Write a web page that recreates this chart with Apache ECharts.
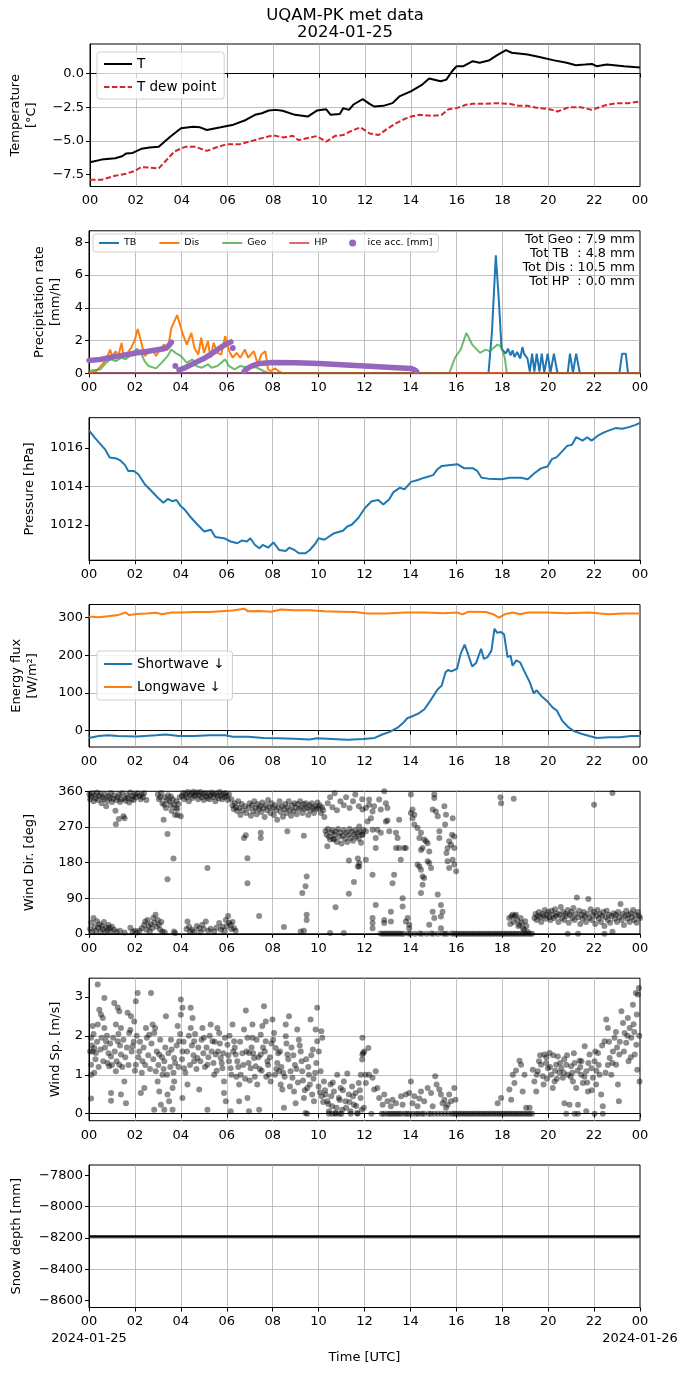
<!DOCTYPE html>
<html>
<head>
<meta charset="utf-8">
<script src="https://cdn.jsdelivr.net/npm/echarts@6/dist/echarts.min.js"></script>
<style>
html, body { margin: 0; padding: 0; background: #fff; }
#chart { width: 690px; height: 1377px; }
</style>
</head>
<body>
<div id="chart"></div>
<script>
// ---- data (x = hour of 2024-01-25 UTC) ----
const hourTicks = [0, 2, 4, 6, 8, 10, 12, 14, 16, 18, 20, 22, 24];

const tempTicks = [-7.5, -5, -2.5, 0];
const tempT = [[0,-6.6],[0.5,-6.4],[1.1,-6.3],[1.4,-6.15],[1.57,-5.95],[1.86,-5.9],[2.24,-5.6],[2.6,-5.5],[3.0,-5.45],[3.5,-4.7],[3.97,-4.07],[4.5,-3.95],[4.8,-4.0],[5.1,-4.2],[5.7,-4.0],[6.26,-3.8],[6.8,-3.45],[7.2,-3.07],[7.5,-2.95],[7.8,-2.75],[8.1,-2.7],[8.4,-2.77],[8.95,-3.07],[9.5,-3.2],[9.9,-2.75],[10.3,-2.65],[10.5,-3.07],[10.9,-3.0],[11.05,-2.57],[11.3,-2.7],[11.5,-2.3],[11.9,-1.9],[12.2,-2.25],[12.4,-2.45],[12.8,-2.4],[13.2,-2.2],[13.5,-1.7],[14.0,-1.32],[14.5,-0.82],[14.8,-0.37],[15.3,-0.57],[15.55,-0.45],[15.8,0.17],[16.0,0.55],[16.3,0.55],[16.7,0.92],[17.0,0.8],[17.4,0.97],[17.75,1.35],[18.15,1.75],[18.4,1.55],[19.1,1.42],[19.66,1.22],[20.2,1.0],[20.8,0.8],[21.2,0.62],[21.6,0.67],[21.9,0.72],[22.1,0.55],[22.55,0.67],[23.3,0.55],[24,0.45]];
const tempDew = [[0,-7.9],[0.5,-7.9],[1.1,-7.6],[1.57,-7.45],[1.95,-7.25],[2.24,-6.95],[2.6,-7.0],[3.0,-7.05],[3.3,-6.5],[3.68,-5.8],[4.15,-5.45],[4.6,-5.45],[5.1,-5.75],[5.5,-5.5],[5.97,-5.25],[6.55,-5.25],[6.93,-5.07],[7.5,-4.8],[7.98,-4.6],[8.45,-4.75],[8.85,-4.63],[9.1,-4.95],[9.6,-4.75],[9.9,-4.65],[10.3,-5.07],[10.7,-4.63],[11.05,-4.57],[11.4,-4.27],[11.8,-4.0],[12.2,-4.45],[12.6,-4.57],[13.0,-4.07],[13.35,-3.7],[13.7,-3.4],[14.0,-3.2],[14.4,-3.07],[14.9,-3.15],[15.35,-3.07],[15.65,-2.65],[16.0,-2.57],[16.4,-2.32],[16.7,-2.25],[17.2,-2.25],[17.75,-2.2],[18.3,-2.25],[18.7,-2.4],[19.1,-2.4],[19.56,-2.57],[20.05,-2.65],[20.4,-2.82],[20.9,-2.5],[21.4,-2.5],[21.9,-2.7],[22.4,-2.4],[22.95,-2.2],[23.5,-2.2],[24,-2.07]];

const rateTicks = [0, 2, 4, 6, 8];
const rateTB = [[0,0],[17.4,0],[17.55,2.5],[17.72,7.2],[17.85,4.5],[17.97,1.5],[18.05,1.6],[18.15,1.2],[18.25,1.5],[18.36,1.1],[18.45,1.4],[18.53,1.0],[18.65,1.3],[18.78,0.9],[18.88,1.6],[18.95,1.2],[19.1,0.9],[19.2,0.1],[19.3,1.2],[19.4,0.1],[19.5,1.2],[19.62,0.1],[19.72,1.2],[19.83,0.05],[19.98,1.2],[20.1,0.05],[20.25,1.2],[20.4,0.05],[20.5,0],[20.85,0],[20.95,1.2],[21.08,0.05],[21.22,1.2],[21.38,0],[23.1,0],[23.22,1.2],[23.38,1.2],[23.48,0],[24,0]];
const rateDis = [[0,0],[0.33,0.15],[0.58,0.55],[0.75,0.85],[0.92,1.45],[1.0,1.05],[1.17,1.35],[1.25,0.95],[1.42,1.85],[1.5,1.05],[1.67,1.25],[1.84,1.55],[2.0,2.05],[2.12,2.7],[2.25,2.05],[2.42,1.05],[2.59,1.25],[2.75,1.5],[2.92,1.05],[3.09,1.45],[3.26,1.75],[3.42,1.4],[3.59,2.77],[3.72,3.18],[3.84,3.55],[3.96,3.0],[4.09,2.37],[4.26,1.75],[4.46,2.47],[4.59,1.55],[4.76,1.15],[4.89,2.17],[5.01,1.25],[5.18,1.96],[5.29,0.95],[5.43,1.86],[5.59,1.25],[5.76,1.15],[5.93,2.27],[6.09,1.4],[6.26,0.95],[6.43,1.25],[6.59,0.95],[6.79,1.45],[6.93,0.95],[7.18,1.35],[7.35,0.55],[7.51,1.15],[7.68,1.35],[7.8,0.24],[7.93,0.14],[8.1,0.3],[8.26,0.14],[8.43,0],[24,0]];
const rateGeo = [[0,0.15],[0.5,0.24],[0.75,0.65],[0.92,0.85],[1.17,0.75],[1.42,0.95],[1.59,0.85],[1.84,1.15],[2.09,1.5],[2.25,1.25],[2.42,0.75],[2.59,0.45],[2.92,0.3],[3.17,0.65],[3.42,1.05],[3.59,1.45],[3.76,1.25],[4.01,1.05],[4.26,0.65],[4.51,0.85],[4.67,0.45],[4.92,0.34],[5.18,0.55],[5.34,0.34],[5.59,0.45],[5.93,0.85],[6.09,0.45],[6.34,0.24],[6.59,0.45],[6.93,0.34],[7.26,0.38],[7.6,0.14],[7.85,0],[15.69,0],[15.94,0.95],[16.19,1.45],[16.44,2.47],[16.69,1.75],[17.03,1.25],[17.28,1.45],[17.45,1.35],[17.78,1.75],[17.95,1.65],[18.11,0.95],[18.2,0],[24,0]];
const rateHP = [[0,0],[24,0]];
const iceSeg1 = [[0,0.78],[0.5,0.85],[1.0,0.98],[1.25,1.05],[1.7,1.15],[2.09,1.25],[2.5,1.33],[2.92,1.42],[3.26,1.5],[3.45,1.65],[3.59,1.9]];
const iceSeg2 = [[3.92,0.2],[4.2,0.35],[4.59,0.62],[5.0,0.9],[5.26,1.12],[5.6,1.45],[5.93,1.75],[6.18,1.92]];
const iceSeg3 = [[6.76,0.12],[6.9,0.3],[7.1,0.45],[7.43,0.6],[8.0,0.66],[9.0,0.64],[10.02,0.6],[11.0,0.52],[12.02,0.45],[13.0,0.37],[14.02,0.3],[14.2,0.2],[14.27,0.12]];
const iceDots = [[3.76,0.45],[6.26,1.55]];
const rateTotals = ['Tot Geo : 7.9 mm', 'Tot TB  : 4.8 mm', 'Tot Dis : 10.5 mm', 'Tot HP  : 0.0 mm'];

const presTicks = [1012, 1014, 1016];
const pressure = [[0,1016.91],[0.23,1016.56],[0.42,1016.3],[0.71,1015.91],[0.9,1015.51],[1.19,1015.46],[1.38,1015.34],[1.57,1015.11],[1.71,1014.81],[1.96,1014.8],[2.15,1014.64],[2.43,1014.12],[2.72,1013.77],[3.0,1013.42],[3.24,1013.16],[3.43,1013.36],[3.62,1013.24],[3.81,1013.3],[3.97,1013.02],[4.16,1012.81],[4.39,1012.46],[4.73,1012.02],[5.02,1011.67],[5.31,1011.76],[5.5,1011.38],[5.88,1011.32],[6.17,1011.15],[6.46,1011.06],[6.65,1011.2],[6.88,1011.15],[7.03,1011.32],[7.23,1010.97],[7.42,1010.8],[7.57,1010.97],[7.8,1010.83],[8.03,1011.1],[8.28,1010.71],[8.57,1010.66],[8.72,1010.83],[8.95,1010.71],[9.14,1010.54],[9.43,1010.54],[9.62,1010.71],[9.87,1011.06],[10.0,1011.32],[10.25,1011.24],[10.68,1011.58],[11.06,1011.71],[11.25,1011.93],[11.44,1012.02],[11.73,1012.37],[12.02,1012.89],[12.31,1013.24],[12.6,1013.3],[12.82,1013.07],[13.07,1013.33],[13.26,1013.71],[13.55,1013.94],[13.74,1013.85],[14.03,1014.24],[14.32,1014.34],[14.61,1014.46],[14.99,1014.59],[15.18,1014.9],[15.37,1015.07],[15.66,1015.11],[16.04,1015.16],[16.33,1014.95],[16.71,1014.95],[16.91,1014.81],[17.1,1014.46],[17.39,1014.41],[17.96,1014.38],[18.34,1014.46],[18.82,1014.46],[19.11,1014.38],[19.4,1014.69],[19.69,1014.94],[19.97,1015.04],[20.16,1015.42],[20.36,1015.51],[20.64,1015.86],[20.84,1016.12],[21.03,1016.16],[21.22,1016.56],[21.5,1016.38],[21.7,1016.56],[21.89,1016.38],[22.18,1016.65],[22.46,1016.82],[22.66,1016.91],[22.94,1017.03],[23.23,1017.0],[23.52,1017.08],[23.81,1017.2],[24,1017.3]];

const fluxTicks = [0, 100, 200, 300];
const swDown = [[0,-19],[0.42,-14],[0.83,-12],[1.25,-14],[2.09,-15],[2.92,-12],[3.34,-10],[3.92,-14],[4.59,-14],[5.26,-12],[5.93,-12],[6.26,-16],[6.93,-16],[7.6,-19],[8.26,-20],[8.93,-21],[9.6,-23],[9.93,-20],[10.6,-22],[11.27,-24],[11.94,-22],[12.44,-19],[12.77,-10],[13.1,-3],[13.44,8],[13.69,21],[13.86,33],[14.11,39],[14.36,46],[14.44,42],[14.61,57],[14.86,79],[15.19,110],[15.36,119],[15.53,155],[15.64,161],[15.78,157],[16.03,164],[16.19,204],[16.36,228],[16.48,208],[16.69,170],[16.86,179],[16.94,177],[17.08,217],[17.2,190],[17.36,195],[17.53,212],[17.66,270],[17.78,259],[17.95,261],[18.08,255],[18.23,195],[18.36,199],[18.45,172],[18.61,186],[18.78,181],[18.95,159],[19.2,128],[19.37,99],[19.5,107],[19.7,92],[19.95,79],[20.2,61],[20.37,54],[20.62,26],[20.87,10],[21.12,-1],[21.45,-8],[21.79,-14],[22.12,-19],[22.62,-17],[23.12,-17],[23.62,-14],[24,-14]];
const lwDown = [[0,302],[0.42,300],[0.83,303],[1.25,306],[1.59,313],[1.75,306],[2.09,309],[2.5,310],[2.92,312],[3.17,308],[3.59,313],[4.0,313],[4.59,314],[5.26,314],[5.76,316],[6.26,318],[6.76,323],[6.93,316],[7.43,317],[7.93,315],[8.35,321],[8.93,319],[9.6,319],[10.27,316],[10.93,315],[11.6,314],[12.1,310],[12.94,310],[13.77,313],[14.61,313],[15.44,311],[16.03,313],[16.28,308],[16.53,315],[17.28,314],[17.61,308],[17.86,299],[18.11,308],[18.45,313],[18.78,308],[19.12,313],[19.95,313],[20.78,311],[21.79,313],[22.62,308],[23.29,310],[24,310]];

const dirTicks = [0, 90, 180, 270, 360];
const calmHours = [16.0,16.1,16.2,16.3,16.4,16.5,16.6,16.7,16.8,16.9,17.0,17.1,17.2,17.3,17.4,17.5,17.6,17.7,17.8,17.9,18.0,18.1,18.2,18.3,18.4,18.5,18.6,18.7,18.8,18.9,19.0,19.1,19.2,19.3];
const windDirA = [[0.02,352],[0.05,340],[0.1,347],[0.15,355],[0.2,335],[0.25,350],[0.3,342],[0.35,357],[0.4,338],[0.45,348],[0.5,353],[0.55,330],[0.6,345],[0.65,340],[0.7,352],[0.75,322],[0.8,336],[0.85,348],[0.9,343],[0.95,356],[1.0,333],[1.05,341],[1.1,350],[1.15,311],[1.17,277],[1.2,338],[1.25,345],[1.3,290],[1.32,352],[1.35,333],[1.4,340],[1.45,355],[1.5,297],[1.55,292],[1.55,342],[1.6,336],[1.65,350],[1.7,344],[1.75,332],[1.8,357],[1.85,340],[1.9,348],[1.95,338],[2.0,352],[2.05,345],[2.1,355],[2.2,348],[2.25,340],[2.3,352],[2.35,345],[2.4,355],[2.5,338],
  [0.05,12],[0.1,28],[0.15,5],[0.2,40],[0.25,18],[0.3,8],[0.35,32],[0.4,15],[0.45,24],[0.5,6],[0.55,20],[0.6,12],[0.65,30],[0.7,4],[0.75,16],[0.8,9],[0.85,22],[0.9,14],[0.95,6],[1.0,18],[1.1,10],[1.2,5],[1.35,8],[1.55,3],[1.8,15],[1.9,5],[2.0,8],[2.1,3],[2.2,8],[2.3,14],[2.4,22],[2.45,31],[2.5,10],[2.55,35],[2.6,20],[2.65,6],[2.7,24],[2.75,14],[2.8,40],[2.85,28],[2.9,48],[2.95,18],[3.0,35],[3.05,23],[3.1,10],[3.15,30],[3.2,6],[3.3,4],[3.7,6],[3.75,2],
  [3.0,352],[3.05,340],[3.1,345],[3.15,356],[3.2,330],[3.25,288],[3.28,326],[3.3,345],[3.35,318],[3.4,338],[3.42,252],[3.42,138],[3.45,350],[3.5,335],[3.55,325],[3.57,347],[3.6,310],[3.65,340],[3.68,190],[3.7,326],[3.75,300],[3.78,318],[3.8,335],[3.85,315],[3.86,300],[3.9,328],[3.95,345],[4.0,297],
  [4.05,348],[4.1,356],[4.15,340],[4.2,352],[4.25,345],[4.3,358],[4.35,335],[4.4,350],[4.45,355],[4.5,343],[4.55,359],[4.6,348],[4.65,352],[4.7,357],[4.75,340],[4.8,350],[4.85,358],[4.9,345],[4.95,353],[5.0,338],[5.05,356],[5.1,348],[5.15,343],[5.16,166],[5.2,355],[5.25,340],[5.3,350],[5.35,357],[5.4,345],[5.45,352],[5.5,335],[5.55,355],[5.6,348],[5.65,342],[5.7,358],[5.75,350],[5.8,340],[5.85,353],[5.9,345],[5.95,356],[6.0,348],[6.05,338],[6.1,352],
  [4.25,12],[4.29,31],[4.36,18],[4.4,5],[4.5,10],[4.58,6],[4.7,20],[4.8,14],[4.85,4],[4.94,23],[5.0,12],[5.09,31],[5.2,8],[5.3,13],[5.45,6],[5.55,15],[5.67,27],[5.75,10],[5.81,18],[5.9,8],[5.96,35],[6.0,20],[6.06,45],[6.1,28],[6.17,23],[6.2,12],[6.25,30],[6.32,14],[6.39,8]];
const windDirB = [[6.2,340],[6.25,325],[6.3,315],[6.35,330],[6.4,320],[6.45,310],[6.5,335],[6.55,318],[6.6,300],[6.65,328],[6.7,312],[6.75,242],[6.8,322],[6.83,249],[6.85,305],[6.9,191],[6.9,128],[6.95,318],[7.0,330],[7.05,298],[7.1,325],[7.15,310],[7.2,335],[7.25,318],[7.3,302],[7.35,328],[7.4,315],[7.41,45],[7.45,322],[7.48,255],[7.48,242],[7.5,308],[7.55,332],[7.6,318],[7.65,295],[7.7,325],[7.75,312],[7.8,338],[7.85,320],[7.9,305],[7.95,330],[8.0,318],[8.05,300],[8.1,325],[8.15,312],[8.2,288],[8.25,320],[8.3,335],[8.35,308],[8.4,322],[8.45,296],[8.49,17],[8.5,315],[8.55,328],[8.6,305],[8.64,259],[8.65,320],[8.7,335],[8.75,312],[8.8,298],[8.85,325],[8.9,310],[8.95,330],[9.0,318],[9.05,302],[9.1,328],[9.15,315],[9.2,335],[9.22,6],[9.25,320],[9.29,103],[9.3,305],[9.35,328],[9.36,248],[9.36,8],[9.4,315],[9.43,120],[9.45,330],[9.48,145],[9.48,48],[9.48,35],[9.5,318],[9.55,300],[9.6,325],[9.65,312],[9.7,330],[9.75,318],[9.8,305],[9.85,322],[9.9,315],[9.95,332],[10.0,318],[10.05,325],[10.1,305],[10.15,320],[10.2,312],[10.25,295],
  [10.3,260],[10.35,250],[10.38,221],[10.4,265],[10.45,245],[10.5,238],[10.5,2],[10.55,255],[10.6,262],[10.65,240],[10.67,238],[10.7,250],[10.74,67],[10.75,258],[10.8,232],[10.85,265],[10.9,245],[10.95,255],[11.0,228],[11.05,248],[11.1,262],[11.1,2],[11.15,240],[11.2,255],[11.25,232],[11.3,250],[11.32,185],[11.32,101],[11.35,265],[11.4,242],[11.45,258],[11.5,235],[11.54,131],[11.55,250],[11.6,262],[11.65,245],[11.7,255],[11.71,190],[11.71,170],[11.75,240],[11.8,258],[11.85,230],[11.9,250],[11.95,262],
  [10.4,330],[10.5,345],[10.6,320],[10.7,355],[10.8,312],[10.95,335],[11.1,325],[11.2,345],[11.35,318],[11.5,335],[11.6,352],[11.75,322],[11.9,340]];
const windDirC = [[11.91,314],[12.06,318],[12.2,326],[12.35,309],[12.42,322],[12.2,339],[12.64,339],[12.71,314],[12.93,330],[13.0,318],[12.86,360],[11.77,271],[11.91,250],[12.06,259],[12.13,284],[12.28,292],[12.35,263],[12.56,263],[12.71,255],[12.93,284],[13.0,286],[13.08,259],[12.49,242],[12.49,217],[12.35,149],[12.06,187],[11.77,179],[11.77,170],[12.49,73],[12.35,40],[12.35,27],[12.86,35],[12.86,27],[13.15,31],[13.15,56],[13.22,128],[13.29,149],[13.37,217],[13.51,217],[13.58,187],[13.73,217],[13.8,217],[13.37,255],[13.44,242],[13.51,288],[13.66,69],[13.66,90],[13.8,31],[13.88,40],[13.95,23],[14.02,352],[14.09,314],[14.02,305],[14.17,301],[14.09,292],[14.17,276],[14.31,267],[14.39,242],[14.46,255],[14.6,238],[14.46,212],[14.53,217],[14.31,175],[14.39,170],[14.46,162],[14.53,145],[14.6,141],[14.53,124],[14.46,103],[14.68,234],[14.75,229],[14.82,208],[14.75,183],[14.82,179],[14.9,166],[14.97,314],[15.04,352],[15.04,343],[15.11,309],[15.19,297],[15.26,259],[15.26,242],[15.19,99],[14.97,56],[15.04,40],[15.33,73],[15.33,44],[15.4,56],[15.48,322],[15.55,301],[15.51,276],[15.57,204],[15.62,217],[15.62,183],[15.69,234],[15.77,225],[15.81,250],[15.84,292],[15.91,246],[15.91,217],[15.91,175],[15.99,158],[15.84,187],[15.69,166],[12.35,14],[13.95,14],[14.82,23],[15.33,14],
  [12.7,1],[12.8,0],[12.9,1],[13.0,0],[13.1,1],[13.2,0],[13.3,1],[13.4,0],[13.5,1],[13.6,0],[13.7,0],[13.9,1],[14.0,0],[14.2,0],[14.4,1],[14.5,0],[14.7,0],[14.9,1],[15.0,0],[15.2,0],[15.4,1],[15.5,0],[15.6,0],[15.8,1],[15.9,0]];
const windDirD = [[17.92,345],[17.95,330],[18.5,341],
  [18.3,40],[18.35,25],[18.4,44],[18.45,48],[18.5,30],[18.55,45],[18.6,48],[18.65,35],[18.7,20],[18.75,23],[18.8,40],[18.85,28],[18.9,14],[18.95,10],[19.0,32],[19.05,20],[19.1,5],
  [19.4,40],[19.45,50],[19.5,35],[19.55,45],[19.6,55],[19.65,42],[19.7,30],[19.75,50],[19.8,45],[19.85,60],[19.9,38],[19.95,48],[20.0,55],[20.05,42],[20.1,35],[20.15,58],[20.2,48],[20.25,40],[20.3,62],[20.35,45],[20.4,52],[20.45,30],[20.5,48],[20.55,68],[20.6,40],[20.65,55],[20.7,35],[20.75,50],[20.8,45],[20.85,0],[20.85,60],[20.9,28],[20.95,48],[21.0,55],[21.05,40],[21.1,65],[21.15,35],[21.2,50],[21.25,92],[21.3,0],[21.3,42],[21.35,58],[21.4,25],[21.45,48],[21.5,38],[21.55,55],[21.6,44],[21.65,30],[21.7,50],[21.75,88],[21.8,40],[21.85,62],[21.9,35],[21.95,48],[22.0,326],[22.0,55],[22.05,25],[22.1,45],[22.15,60],[22.2,38],[22.25,50],[22.3,30],[22.35,45],[22.4,55],[22.45,0],[22.45,20],[22.5,42],[22.55,58],[22.6,35],[22.65,48],[22.7,28],[22.75,45],[22.8,356],[22.8,5],[22.85,52],[22.9,38],[22.95,48],[23.0,30],[23.05,55],[23.1,42],[23.15,75],[23.2,35],[23.25,50],[23.3,22],[23.35,45],[23.4,58],[23.45,38],[23.5,48],[23.55,30],[23.6,52],[23.65,42],[23.7,60],[23.75,35],[23.8,48],[23.85,28],[23.9,55],[23.95,45],[24.0,40]];

const speedTicks = [0, 1, 2, 3];
const windSpA = [[0.38,3.32],[0.67,2.97],[0.45,2.67],[0.52,2.55],[0.38,2.29],[0.16,2.25],[0.09,1.95],[0.16,1.6],[0.23,1.69],[0.3,1.56],[0.09,1.26],[0.23,1.05],[0.09,1.0],[0.09,0.39],[0.6,2.46],[0.67,2.2],[0.74,1.86],[0.81,1.3],[0.88,1.22],[0.96,1.47],[0.96,0.53],[0.96,0.33],[1.1,2.84],[1.25,2.73],[1.32,2.63],[1.17,2.29],[1.39,2.2],[1.25,1.86],[1.39,1.52],[1.17,1.09],[1.32,1.26],[1.39,0.49],[1.54,0.83],[1.61,0.27],[1.68,2.59],[1.83,2.5],[1.75,2.07],[1.9,1.73],[1.97,2.37],[2.04,2.89],[2.12,3.1],[2.04,1.26],[2.19,1.6],[2.26,0.53],[2.33,1.35],[2.41,0.66],[2.48,2.2],[2.62,2.03],[2.7,3.1],[2.77,2.29],[2.84,2.07],[2.84,0.1],[2.91,1.09],[2.99,0.83],[3.06,1.52],[3.06,0.57],[3.13,0.23],[3.2,1.0],[3.28,0.1],[3.28,1.35],[3.35,2.5],[3.42,0.49],[3.49,0.32],[3.57,1.9],[3.64,0.1],[3.71,0.83],[3.64,0.66],[3.71,1.43],[3.86,2.25],[4.0,2.93],[4.07,2.72],[4.0,2.54],[3.93,1.86],[4.07,1.6],[4.14,1.17],[4.07,0.4],[4.29,0.75],[4.43,2.72],[4.51,2.46],[4.43,2.2],[4.58,1.86],[4.58,1.35],[4.72,1.43],[4.8,0.62],[4.94,2.2],[5.01,1.95],[5.16,1.26],[5.16,0.1],[5.3,2.29],[5.38,1.86],[5.45,1.0],[5.52,1.52],[5.59,2.2],[5.67,2.07],[5.74,1.43],[5.81,1.17],[5.88,0.53],[5.88,0.83],[5.96,0.32],
  [0.05,1.6],[0.12,1.75],[0.2,2.05],[0.28,1.4],[0.35,1.85],[0.42,1.2],[0.5,1.65],[0.55,1.95],[0.62,1.35],[0.7,1.7],[0.78,2.0],[0.85,1.55],[0.92,1.8],[1.0,1.25],[1.05,1.95],[1.12,1.6],[1.2,1.35],[1.28,2.05],[1.35,1.75],[1.45,1.2],[1.5,1.9],[1.58,1.45],[1.65,1.7],[1.72,1.25],[1.8,2.15],[1.86,1.6],[1.95,1.85],[2.0,1.1],[2.08,2.0],[2.15,1.45],[2.22,1.85],[2.3,1.05],[2.38,1.7],[2.45,1.25],[2.52,1.95],[2.58,1.5],[2.66,1.15],[2.72,1.8],[2.8,1.4],[2.88,2.2],[2.95,1.6],[3.02,1.25],[3.1,1.9],[3.18,1.45],[3.25,1.15],[3.32,1.7],[3.4,1.0],[3.46,1.55],[3.54,1.2],[3.6,1.65],[3.68,1.05],[3.75,1.3],[3.82,1.75],[3.9,1.2],[3.97,2.05],[4.05,1.4],[4.12,1.85],[4.2,1.05],[4.27,1.6],[4.35,2.0],[4.4,1.25],[4.48,1.75],[4.55,1.5],[4.62,2.05],[4.68,1.15],[4.76,1.7],[4.85,1.35],[4.9,1.9],[4.98,1.55],[5.05,1.2],[5.12,1.7],[5.2,1.45],[5.26,2.0],[5.34,1.6],[5.42,1.3],[5.48,1.85],[5.56,1.1],[5.62,1.6],[5.7,1.8],[5.78,1.3],[5.85,1.55],[5.92,1.95]];
const windSpB = [[6.03,1.77],[6.1,1.35],[6.17,1.17],[6.17,0.06],[6.25,2.29],[6.32,1.86],[6.39,1.52],[6.46,1.35],[6.54,0.75],[6.54,0.32],[6.61,1.0],[6.75,2.16],[6.83,2.65],[6.9,1.95],[6.97,1.56],[6.9,0.4],[6.97,0.06],[7.04,1.17],[7.12,2.29],[7.12,1.95],[7.19,1.43],[7.26,1.22],[7.33,0.75],[7.41,0.1],[7.48,1.52],[7.48,2.03],[7.55,2.25],[7.62,2.76],[7.7,2.37],[7.7,1.86],[7.77,1.35],[7.84,1.0],[7.91,0.83],[7.99,2.42],[8.06,2.07],[8.13,1.69],[8.2,1.3],[8.28,1.09],[8.35,0.75],[8.42,0.62],[8.49,0.15],[8.57,2.29],[8.57,1.99],[8.64,1.52],[8.71,2.5],[8.78,1.09],[8.86,0.92],[8.93,0.57],[9.0,0.27],[9.07,2.16],[9.14,1.9],[9.22,1.6],[9.29,1.09],[9.36,0.4],[9.43,0.02],[9.51,0.66],[9.58,1.0],[9.65,2.42],[9.72,0.49],[9.8,0.32],[9.87,2.16],[9.94,2.72],[9.94,1.86],[10.01,1.6],[10.09,1.09],[10.12,2.12],[10.16,1.95],
  [10.23,0.83],[10.3,0.49],[10.38,0.32],[10.45,0.06],[10.52,0.75],[10.59,0.19],[10.67,0.57],[10.74,0.02],[10.81,1.0],[10.88,0.4],[10.96,0.66],[11.03,0.1],[11.1,0.83],[11.17,0.32],[11.25,1.03],[11.32,0.49],[11.39,0.06],[11.46,0.7],[11.54,0.23],[11.61,0.53],[11.68,0.02],[11.75,0.79],[11.83,0.4],[11.9,1.39],[11.94,1.56],[11.97,0.15],[12.04,1.0],
  [6.07,1.5],[6.2,1.0],[6.35,1.7],[6.5,1.2],[6.68,1.55],[6.8,0.9],[6.95,1.3],[7.08,1.7],[7.22,0.95],[7.38,1.45],[7.52,1.1],[7.66,1.6],[7.8,1.25],[7.95,1.8],[8.1,1.0],[8.24,1.55],[8.38,1.2],[8.52,0.95],[8.68,1.4],[8.82,1.7],[8.97,1.25],[9.1,0.8],[9.26,1.35],[9.4,0.6],[9.55,1.2],[9.68,1.5],[9.78,0.9],[9.9,1.3],[10.06,0.55],[10.2,0.3],[10.28,0.6],[10.42,0.25],[10.55,0.45],[10.62,0.8],[10.78,0.15],[10.92,0.35],[11.06,0.6],[11.2,0.15],[11.35,0.3],[11.5,0.45],[11.64,0.2],[11.8,0.6],[11.88,0.1],
  [6.12,2.0],[6.28,1.6],[6.42,0.95],[6.58,1.85],[6.72,1.25],[6.86,1.6],[7.0,0.85],[7.15,1.55],[7.3,1.9],[7.44,1.15],[7.58,1.7],[7.72,0.95],[7.88,1.45],[8.02,1.9],[8.16,1.15],[8.32,1.6],[8.46,1.05],[8.6,1.8],[8.75,0.7],[8.9,1.5],[9.04,1.15],[9.18,1.75],[9.32,0.85],[9.46,1.4],[9.62,0.75],[9.75,1.65],[9.85,1.05],[10.0,0.7],[10.14,0.45],
  [9.5,0],[10.45,0],[10.6,0],[10.74,0],[10.9,0],[11.0,0],[11.4,0],[11.7,0]];
const windSpC = [[11.91,1.95],[11.99,1.6],[11.91,1.52],[12.17,1.69],[11.84,1.0],[12.06,0.79],[12.2,1.0],[12.35,0.92],[12.49,1.09],[12.42,0.62],[12.56,0.66],[12.64,0.4],[12.79,0.23],[12.86,0.49],[13.0,0.32],[13.15,0.19],[13.22,0.36],[13.37,0.27],[13.59,0.45],[13.66,0.23],[13.8,0.49],[13.95,0.53],[14.02,0.83],[14.09,0.27],[14.17,0.45],[14.31,0.19],[14.39,0.39],[14.46,0.57],[14.6,0.32],[14.75,0.66],[14.9,0.53],[14.97,0.19],[15.08,0.96],[15.14,0.75],[15.26,0.62],[15.33,0.49],[15.4,0.27],[15.48,0.36],[15.55,0.15],[15.62,0.23],[15.69,0.49],[15.77,0.32],[15.91,0.66],[15.96,0.36],
  [12.3,0],[12.75,0],[12.85,0],[13.0,0],[13.1,0],[13.2,0],[13.3,0],[13.4,0],[13.5,0],[13.6,0],[13.75,0],[13.85,0],[13.95,0],[14.1,0],[14.25,0],[14.35,0],[14.5,0],[14.6,0],[14.8,0],[14.9,0],[15.05,0],[15.2,0],[15.35,0],[15.5,0],[15.65,0],[15.8,0],[15.9,0]];
const windSpD = [[17.8,0.27],[17.95,0.4],[18.31,0.62],[18.39,0.36],[18.46,1.0],[18.53,0.79],[18.6,1.11],[18.75,1.36],[18.82,1.26],[18.89,0.57],[18.97,1.0],[19.04,0.15],[19.19,0.15],
  [19.33,1.13],[19.4,0.83],[19.48,0.57],[19.55,1.09],[19.69,1.26],[19.77,0.96],[19.84,1.52],[19.91,1.3],[19.99,1.17],[20.06,1.56],[20.13,1.0],[20.2,0.66],[20.28,0.83],[20.35,1.26],[20.42,1.47],[20.49,1.05],[20.57,1.17],[20.64,0.92],[20.71,0.27],[20.79,1.26],[20.86,1.0],[20.93,0.23],[21.0,1.22],[21.08,0.83],[21.15,1.3],[21.22,0.66],[21.3,0.23],[21.37,1.36],[21.44,1.0],[21.51,0.79],[21.59,1.73],[21.66,1.09],[21.73,0.57],[21.8,1.52],[21.88,1.17],[21.95,0.92],[22.02,1.35],[22.09,0.75],[22.17,1.56],[22.24,1.0],[22.31,0.49],[22.38,0.19],[22.46,1.86],[22.53,2.42],[22.6,2.2],[22.68,1.43],[22.75,1.0],[22.82,1.6],[22.89,1.95],[22.96,1.26],[23.04,0.75],[23.08,0.32],[23.1,1.52],[23.19,2.63],[23.26,2.33],[23.33,2.07],[23.4,1.82],[23.47,2.46],[23.55,2.2],[23.62,1.95],[23.69,2.8],[23.77,1.52],[23.84,1.77],[23.91,3.06],[23.95,3.23],[23.98,0.83],[23.88,1.13],[23.82,3.1],
  [19.6,1.35],[19.95,0.9],[20.3,1.1],[20.7,1.4],[21.05,1.05],[21.4,1.2],[21.7,0.8],[22.1,1.1],[22.6,1.25],[23.0,1.7],[23.5,1.35],[23.75,2.1],
  [19.5,1.0],[19.65,1.5],[19.8,0.75],[19.92,1.45],[20.08,1.2],[20.22,1.5],[20.38,0.9],[20.52,1.3],[20.68,1.05],[20.82,1.5],[20.98,0.95],[21.12,1.55],[21.28,1.1],[21.45,1.35],[21.58,0.95],[21.75,1.3],[21.9,0.6],[22.05,1.6],[22.2,1.25],[22.35,1.75],[22.5,1.05],[22.65,1.85],[22.8,1.3],[22.95,2.1],[23.12,1.85],[23.3,1.6],[23.45,2.0],[23.6,1.45],[23.72,2.3],[23.86,2.55],[23.97,2.0],
  [20.79,0],[21.15,0],[21.3,0],[21.66,0.06],[22.02,0],[22.38,0]];

const snowTicks = [-8600, -8400, -8200, -8000, -7800];
const snowDepth = [[0,-8192],[24,-8192]];

// ---- layout ----
const FONT = 'DejaVu Sans';
const GRID_GRAY = '#b0b0b0';
const TOPS = [44, 230.8, 417.7, 604.5, 791.3, 978.2, 1165];
const PH = 142.5;

const minus = s => String(s).replace('-', '\u2212');
const hh = v => (v % 24 === 0 ? '00' : String(v).padStart(2, '0'));

const yDefs = [
  { name: 'Temperature\n[°C]', min: -8.4, max: 2.2, ticks: tempTicks, fmt: v => minus(v.toFixed(1)), gap: 50 },
  { name: 'Precipitation rate\n[mm/h]', min: 0, max: 8.7, ticks: rateTicks, fmt: v => String(v), gap: 24 },
  { name: 'Pressure [hPa]', min: 1010.18, max: 1017.57, ticks: presTicks, fmt: v => String(v), gap: 51 },
  { name: 'Energy flux\n[W/m²]', min: -43, max: 334, ticks: fluxTicks, fmt: v => String(v), gap: 48 },
  { name: 'Wind Dir. [deg]', min: 0, max: 360, ticks: dirTicks, fmt: v => String(v), gap: 51 },
  { name: 'Wind Sp. [m/s]', min: -0.18, max: 3.48, ticks: speedTicks, fmt: v => String(v), gap: 25 },
  { name: 'Snow depth [mm]', min: -8645, max: -7735, ticks: snowTicks, fmt: v => minus(v), gap: 64 }
];

const txt = { fontFamily: FONT, color: '#000', fontSize: 13 };

const grid = yDefs.map((d, i) => ({
  left: 89, width: 551, top: TOPS[i], height: PH,
  show: true, borderColor: '#000', borderWidth: 1, backgroundColor: 'transparent'
}));

const xAxis = yDefs.map((d, i) => {
  const last = i === yDefs.length - 1;
  return {
    type: 'value', gridIndex: i, min: 0, max: 24, interval: 2,
    axisLine: { show: true, lineStyle: { color: '#000', width: 1 } },
    axisTick: { show: true, length: 4, lineStyle: { color: '#000' } },
    axisLabel: Object.assign({}, txt, {
      margin: 6, showMinLabel: true, showMaxLabel: true, lineHeight: 17,
      formatter: v => {
        if (last && v === 0) return '00\n2024-01-25';
        if (last && v === 24) return '00\n2024-01-26';
        return hh(v);
      }
    }),
    splitLine: { show: true, showMinLine: false, showMaxLine: false, lineStyle: { color: GRID_GRAY, width: 0.8 } },
    name: last ? 'Time [UTC]' : '',
    nameLocation: 'middle', nameGap: 44, nameTextStyle: txt
  };
});

const yAxis = yDefs.map((d, i) => ({
  type: 'value', gridIndex: i, min: d.min, max: d.max,
  axisLine: { show: true, lineStyle: { color: '#000', width: 1 } },
  axisTick: { show: true, length: 4, customValues: d.ticks, lineStyle: { color: '#000' } },
  axisLabel: Object.assign({}, txt, { margin: 6, customValues: d.ticks, formatter: d.fmt }),
  splitLine: { show: true, showMinLine: false, showMaxLine: false, lineStyle: { color: GRID_GRAY, width: 0.8 } },
  name: d.name, nameLocation: 'middle', nameGap: d.gap,
  nameTextStyle: Object.assign({}, txt, { lineHeight: 16 })
}));

function line(name, idx, data, color, width, extra) {
  return Object.assign({
    type: 'line', name: name, xAxisIndex: idx, yAxisIndex: idx, data: data,
    symbol: 'none', showSymbol: false, animation: false,
    lineStyle: { color: color, width: width }, itemStyle: { color: color }
  }, extra || {});
}
function dots(name, idx, data, color, size, opacity) {
  return {
    type: 'scatter', name: name, xAxisIndex: idx, yAxisIndex: idx, data: data,
    symbolSize: size, animation: false,
    itemStyle: { color: color, opacity: opacity }
  };
}

const ICE = 'ice acc. [mm]';
const ICE_COLOR = '#9467bd';
const iceLine = seg => line(ICE, 1, seg, ICE_COLOR, 5.5, { lineStyle: { color: ICE_COLOR, width: 5.5, cap: 'round', join: 'round' }, z: 5 });

const series = [
  line('T', 0, tempT, '#000', 2),
  line('T dew point', 0, tempDew, '#d62728', 2, { lineStyle: { color: '#d62728', width: 2, type: [5.5, 2.4] } }),

  line('TB', 1, rateTB, '#1f77b4', 2),
  line('Dis', 1, rateDis, '#ff7f0e', 2),
  line('Geo', 1, rateGeo, '#2ca02c', 2, { lineStyle: { color: '#2ca02c', width: 2, opacity: 0.7 }, itemStyle: { color: '#6dbf6d' } }),
  line('HP', 1, rateHP, '#d62728', 2, { lineStyle: { color: '#d62728', width: 2, opacity: 0.7 }, itemStyle: { color: '#e46a6b' } }),
  iceLine(iceSeg1), iceLine(iceSeg2), iceLine(iceSeg3),
  dots(ICE, 1, iceDots, ICE_COLOR, 6, 1),

  line('Pressure', 2, pressure, '#1f77b4', 2),

  line('Shortwave ↓', 3, swDown, '#1f77b4', 2),
  line('Longwave ↓', 3, lwDown, '#ff7f0e', 2),

  dots('Wind Dir', 4, windDirA.concat(windDirB, windDirC, calmHours.map(h => [h, 0]), windDirD), '#000', 6, 0.45),
  dots('Wind Sp', 5, windSpA.concat(windSpB, windSpC, calmHours.map(h => [h, 0]), windSpD), '#000', 6, 0.45),

  line('Snow', 6, snowDepth, '#000', 2.5)
];

const legendBox = {
  backgroundColor: 'rgba(255,255,255,0.8)', borderColor: '#d0d0d0', borderWidth: 1, borderRadius: 3,
  itemStyle: { opacity: 0 }
};
const legend = [
  Object.assign({
    left: 97, top: 52, orient: 'vertical', itemWidth: 28, itemHeight: 10, itemGap: 9,
    padding: [5, 8, 5, 6], textStyle: Object.assign({}, txt, { fontSize: 13.5 }),
    data: ['T', 'T dew point']
  }, legendBox),
  Object.assign({
    left: 93, top: 234, orient: 'horizontal', itemWidth: 20, itemHeight: 7, itemGap: 22,
    padding: [4, 6, 4, 5], textStyle: Object.assign({}, txt, { fontSize: 9.5 }),
    data: ['TB', 'Dis', 'Geo', 'HP', { name: ICE, icon: 'circle', itemStyle: { color: ICE_COLOR, opacity: 1 } }]
  }, legendBox),
  Object.assign({
    left: 97, top: 651, orient: 'vertical', itemWidth: 28, itemHeight: 10, itemGap: 9,
    padding: [6, 8, 6, 6], textStyle: Object.assign({}, txt, { fontSize: 13.5 }),
    data: ['Shortwave ↓', 'Longwave ↓']
  }, legendBox)
];

const titleStyle = { fontFamily: FONT, fontSize: 16.5, fill: '#000' };
const graphic = [
  { type: 'text', left: 'center', top: 7, style: Object.assign({ text: 'UQAM-PK met data' }, titleStyle) },
  { type: 'text', left: 'center', top: 24, style: Object.assign({ text: '2024-01-25' }, titleStyle) }
].concat(rateTotals.map((t, i) => ({
  type: 'text', right: 690 - 635, top: 233 + i * 14,
  style: { text: t, fontFamily: FONT, fontSize: 12.8, fill: '#000' }
})));

const chart = echarts.init(document.getElementById('chart'), null, { renderer: 'canvas' });
chart.setOption({
  animation: false,
  backgroundColor: '#fff',
  grid: grid, xAxis: xAxis, yAxis: yAxis,
  legend: legend, graphic: graphic, series: series
});
</script>
</body>
</html>
